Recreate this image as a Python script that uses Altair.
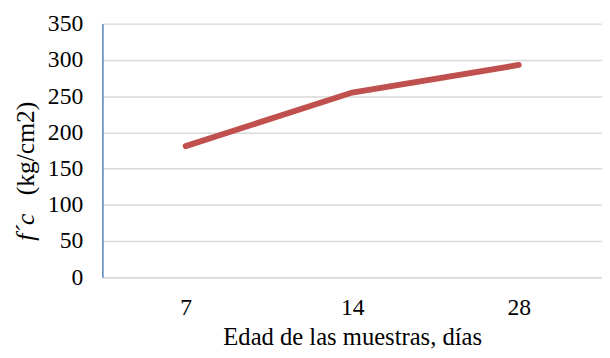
import altair as alt
import pandas as pd

edad = ["7", "14", "28"]
fc = [181, 255, 293]

df = pd.DataFrame({"edad": edad, "fc": fc})
FONT = "Liberation Serif, Times New Roman, serif"

line = alt.Chart(df).mark_line(color="#C0504D", strokeWidth=6, strokeCap="round").encode(
    x=alt.X("edad:N", sort=edad,
            scale=alt.Scale(paddingInner=0, paddingOuter=0.5),
            axis=alt.Axis(title="Edad de las muestras, días", labelAngle=0, ticks=False,
                          labelFont=FONT, labelFontSize=24, labelColor="black", labelPadding=19,
                          titleFont=FONT, titleFontSize=25, titleFontWeight="normal", titleColor="black",
                          titlePadding=5, domainColor="#D9D9D9", domainWidth=1.5, grid=False)),
    y=alt.Y("fc:Q", scale=alt.Scale(domain=[0, 350], nice=False),
            axis=alt.Axis(title=None, values=list(range(0, 351, 50)), ticks=False,
                          labelFont=FONT, labelFontSize=24, labelColor="black", labelPadding=20,
                          domainColor="#4F81BD", domainWidth=1.5,
                          gridColor="#D9D9D9", gridWidth=1.5)),
)

t1 = alt.Chart(pd.DataFrame({"t": ["(kg/cm2)"]})).mark_text(
    angle=270, font=FONT, fontSize=26, color="black", align="center", baseline="middle"
).encode(x=alt.value(-78), y=alt.value(127), text="t:N")

t2 = alt.Chart(pd.DataFrame({"t": ["f´c"]})).mark_text(
    angle=270, font=FONT, fontSize=26, fontStyle="italic", color="black", align="center", baseline="middle"
).encode(x=alt.value(-78), y=alt.value(207), text="t:N")

chart = alt.layer(line, t1, t2).properties(
    width=508, height=258,
    padding={"left": 5, "top": 1, "right": 0, "bottom": 0}
).configure_view(stroke=None)

chart.save("out.html", embed_options={"renderer": "svg", "actions": False})
